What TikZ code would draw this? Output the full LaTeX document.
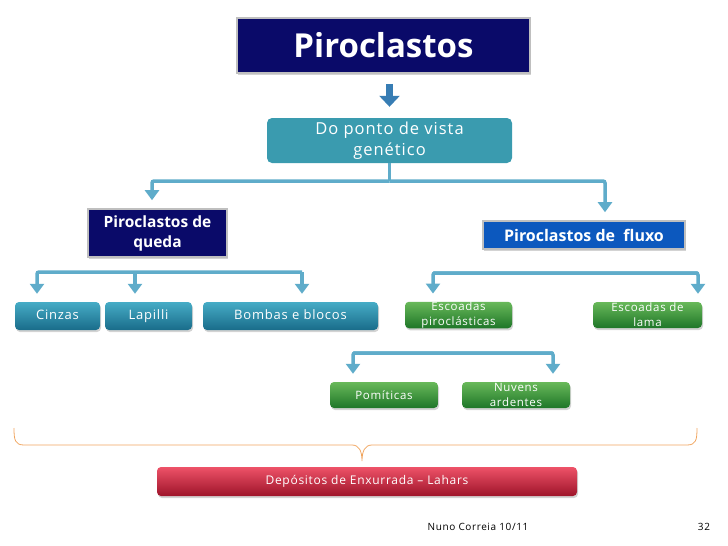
\documentclass[tikz,border=0pt]{standalone}
\usepackage{fontspec}
\setmainfont{Open Sans}
\newfontfamily\boxfont[LetterSpace=6]{Open Sans}
\usetikzlibrary{positioning,arrows.meta,calc,shadows}
\definecolor{navy}{RGB}{10,10,105}
\definecolor{fluxblue}{RGB}{12,88,190}
\definecolor{linkblue}{RGB}{95,172,202}
\definecolor{arrblue}{RGB}{55,125,180}
\definecolor{brcorange}{RGB}{240,165,95}
\tikzset{
  shd/.style={drop shadow={opacity=0.35,shadow xshift=1pt,shadow yshift=-2pt}},
  navybox/.style={draw=black!25,line width=1.6pt,fill=navy,text=white,align=center,shd},
  tealbox/.style={rounded corners=4pt,top color={rgb,255:red,70;green,172;blue,198},
    bottom color={rgb,255:red,25;green,108;blue,138},text=white,text height=10pt,text depth=3pt,
    font=\boxfont\fontsize{13}{14}\selectfont,shd},
  greenbox/.style={rounded corners=4pt,top color={rgb,255:red,105;green,185;blue,90},
    bottom color={rgb,255:red,30;green,118;blue,40},text=white,align=center,inner ysep=0pt,
    font=\boxfont\fontsize{11.5}{15}\selectfont,shd},
  redbox/.style={rounded corners=4pt,top color={rgb,255:red,238;green,82;blue,104},
    bottom color={rgb,255:red,158;green,20;blue,42},text=white,font=\boxfont\fontsize{12}{13}\selectfont,shd},
  link/.style={line width=3.5pt,linkblue,rounded corners=2pt},
  tip/.style={-{Triangle[width=14pt,length=10pt]},shorten >=8pt},
  brc/.style={brcorange,line width=0.8pt},
  foot/.style={font=\boxfont\fontsize{10}{11}\selectfont},
}
\begin{document}
\begin{tikzpicture}[x=1pt,y=-1pt]
  \useasboundingbox (0,0) rectangle (728,546);
  % boxes
  \node[navybox,minimum width=293,minimum height=55,font=\fontsize{33}{35}\selectfont\bfseries] (title) at (383.5,45.5) {Piroclastos};
  \node[rounded corners=5pt,fill={rgb,255:red,58;green,155;blue,175},text=white,align=center,
    minimum width=245,minimum height=45,font=\boxfont\fontsize{16.5}{21}\selectfont] (genet) at (389.5,140.5) {Do ponto de vista\\genético};
  \node[navybox,minimum width=139,minimum height=48,font=\fontsize{15.5}{20}\selectfont\bfseries] (queda) at (157.5,233) {Piroclastos de\\queda};
  \node[navybox,fill=fluxblue,minimum width=202,minimum height=28,font=\fontsize{16}{18}\selectfont\bfseries] (fluxo) at (584,235) {Piroclastos de\ \ fluxo};
  \node[tealbox,minimum width=85,minimum height=28] (cinzas) at (57.5,316) {Cinzas};
  \node[tealbox,minimum width=87,minimum height=28] (lapilli) at (148.5,316) {Lapilli};
  \node[tealbox,minimum width=175,minimum height=28] (bombas) at (290.5,316) {Bombas e blocos};
  \node[greenbox,minimum width=107,minimum height=26] (escpir) at (458.5,315) {Escoadas\\piroclásticas};
  \node[greenbox,minimum width=109,minimum height=26] (esclama) at (647.5,315) {Escoadas de\\lama};
  \node[greenbox,minimum width=108,minimum height=26] (pomit) at (384,395) {Pomíticas};
  \node[greenbox,minimum width=108,minimum height=26] (nuvens) at (516,395) {Nuvens\\ardentes};
  \node[redbox,minimum width=420,minimum height=29] (lahars) at (367,481.5) {Depósitos de Enxurrada – Lahars};
  % top arrow
  \draw[arrblue,line width=7pt,-{Triangle[width=20pt,length=11pt]},shorten <=10pt,shorten >=11pt] (title.south -| genet) -- (genet.north);
  % genetic split
  \coordinate (j1) at (genet.south |- 0,181);
  \draw[link] (genet.south) -- (j1);
  \draw[link,tip] (j1) -| ([xshift=-5.5]queda.north);
  \draw[link,tip] (j1) -| ([xshift=21]fluxo.north);
  % queda split
  \coordinate (qL) at (37,272); \coordinate (qR) at (302,272);
  \draw[link,tip] (qR) -- (qL) -- (qL |- cinzas.north);
  \draw[link,tip] (qR) -- (qR |- bombas.north);
  \draw[link,tip] (135,272) -- (lapilli.north -| 135,0);
  % fluxo split
  \coordinate (fL) at (433,273); \coordinate (fR) at (698,273);
  \draw[link,tip] (fR) -- (fL) -- (fL |- escpir.north);
  \draw[link,tip] (fL) -- (fR) -- (fR |- esclama.north);
  % escoadas split
  \coordinate (eL) at (353,353); \coordinate (eR) at (553,353);
  \draw[link,tip] (eR) -- (eL) -- (eL |- pomit.north);
  \draw[link,tip] (eL) -- (eR) -- (eR |- nuvens.north);
  % brace
  \draw[brc] (14,428) .. controls (14,440) and (15,445) .. (24,445) -- (352,445)
    .. controls (359,445) and (362,451) .. (362,461)
    .. controls (362,451) and (365,445) .. (372,445) -- (687,445)
    .. controls (696,445) and (697,440) .. (697,428);
  % footer
  \node[foot] (autor) at (478,527) {Nuno Correia 10/11};
  \node[foot] (pag) at (704,527) {32};
\end{tikzpicture}
\end{document}
